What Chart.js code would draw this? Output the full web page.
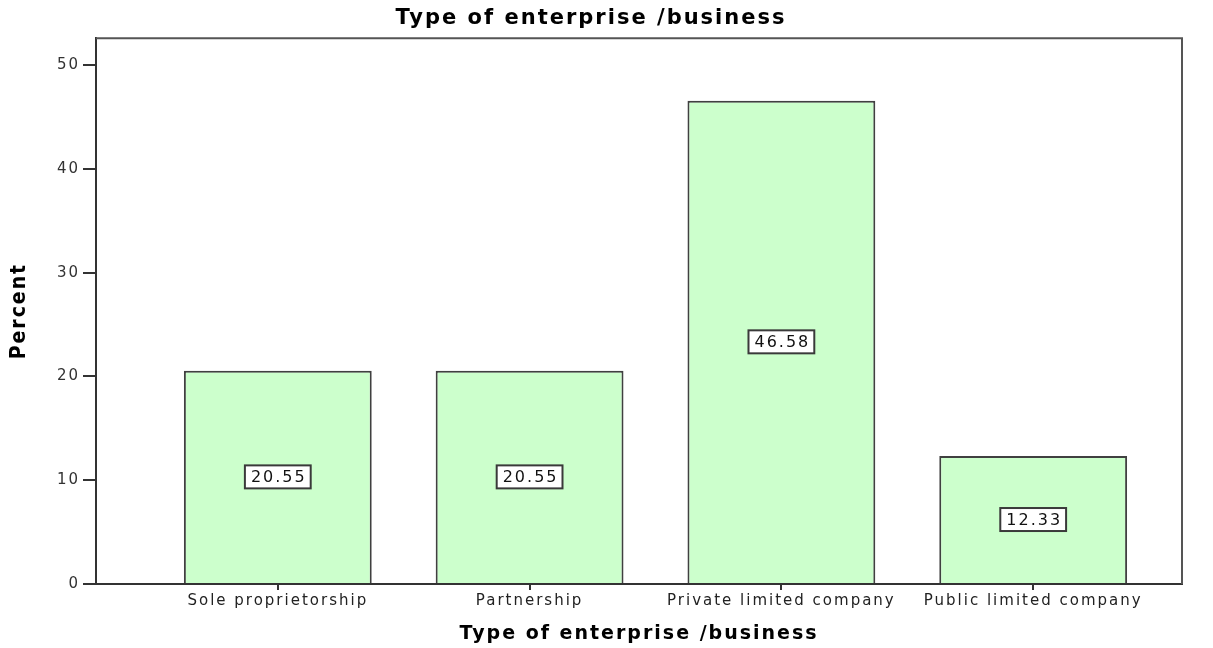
<!DOCTYPE html>
<html>
<head>
<meta charset="utf-8">
<script src="https://cdn.jsdelivr.net/npm/chart.js@4"></script>
<style>
  html, body { margin: 0; padding: 0; background: #fff; }
  #wrap { width: 1213px; height: 648px; }
</style>
</head>
<body>
<div id="wrap"><canvas id="enterpriseChart" width="1213" height="648"></canvas></div>
<script>
const categories = ["Sole proprietorship", "Partnership", "Private limited company", "Public limited company"];
const percents = [20.55, 20.55, 46.58, 12.33];
const yTicks = [0, 10, 20, 30, 40, 50];

// the reference text is drawn wide, so space the letters a little
const wideText = {
    id: "wideText",
    beforeDraw(chart) {
        chart.ctx.letterSpacing = "2px";
    }
};

// boxed value label in the middle of each bar
const valueBoxes = {
    id: "valueBoxes",
    afterDatasetsDraw(chart) {
        const ctx = chart.ctx;
        const meta = chart.getDatasetMeta(0);
        ctx.save();
        ctx.font = "16px 'DejaVu Sans'";
        ctx.textAlign = "center";
        ctx.textBaseline = "middle";
        meta.data.forEach((bar, i) => {
            const txt = percents[i].toFixed(2);
            const w = ctx.measureText(txt).width + 10;
            const h = 23;
            const cx = bar.x;
            const cy = (bar.y + bar.base) / 2;
            ctx.fillStyle = "#ffffff";
            ctx.fillRect(cx - w / 2, cy - h / 2, w, h);
            ctx.strokeStyle = "#3a3a3a";
            ctx.lineWidth = 2;
            ctx.strokeRect(cx - w / 2, cy - h / 2, w, h);
            ctx.fillStyle = "#111";
            ctx.fillText(txt, cx + 1, cy + 1);
        });
        ctx.restore();
    }
};

// top and right edges of the plot frame
const frame = {
    id: "frame",
    afterDraw(chart) {
        const a = chart.chartArea;
        const ctx = chart.ctx;
        ctx.save();
        ctx.strokeStyle = "#555";
        ctx.lineWidth = 2;
        ctx.beginPath();
        ctx.moveTo(a.left, a.top);
        ctx.lineTo(a.right, a.top);
        ctx.lineTo(a.right, a.bottom);
        ctx.stroke();
        ctx.restore();
    }
};

new Chart(document.getElementById("enterpriseChart"), {
    type: "bar",
    data: {
        datasets: [{
            label: "Percent",
            data: categories.map((c, i) => ({ x: i, y: percents[i] })),
            backgroundColor: "#ccffcc",
            borderColor: "#404040",
            borderWidth: 2,
            barPercentage: 0.746,
            categoryPercentage: 1
        }]
    },
    options: {
        responsive: false,
        animation: false,
        layout: { padding: { top: 0, right: 31, bottom: 0, left: 0 } },
        plugins: {
            legend: { display: false },
            tooltip: { enabled: false },
            title: {
                display: true,
                text: "Type of enterprise /business",
                color: "#000",
                font: { family: "'DejaVu Sans'", size: 21, weight: "bold", lineHeight: 1.2 },
                padding: { top: 6, bottom: 7 }
            }
        },
        scales: {
            x: {
                type: "linear",
                offset: false,
                min: -0.722,
                max: 3.591,
                afterBuildTicks: (scale) => { scale.ticks = categories.map((c, i) => ({ value: i })); },
                afterFit: (scale) => { scale.height = 64; },
                border: { color: "#333", width: 2 },
                grid: { offset: false, drawOnChartArea: false, drawTicks: true, tickLength: 6, color: "#333", lineWidth: 2 },
                ticks: {
                    color: "#222",
                    font: { family: "'DejaVu Sans'", size: 15 },
                    padding: 2,
                    maxRotation: 0,
                    autoSkip: false,
                    callback: (v) => categories[v]
                },
                title: {
                    display: true,
                    text: "Type of enterprise /business",
                    color: "#000",
                    font: { family: "'DejaVu Sans'", size: 19, weight: "bold", lineHeight: 1.2 },
                    padding: 3
                }
            },
            y: {
                min: 0,
                max: 52.6,
                afterBuildTicks: (scale) => { scale.ticks = yTicks.map(v => ({ value: v })); },
                afterFit: (scale) => { scale.width = 96; },
                border: { color: "#333", width: 2 },
                grid: { drawOnChartArea: false, drawTicks: true, tickLength: 13, color: "#333", lineWidth: 2 },
                ticks: {
                    color: "#333",
                    font: { family: "'DejaVu Sans'", size: 15 },
                    padding: 3
                },
                title: {
                    display: true,
                    text: "Percent",
                    color: "#000",
                    font: { family: "'Liberation Sans Narrow', 'DejaVu Sans Condensed'", size: 21, weight: "bold", lineHeight: 1.2 },
                    padding: 7
                }
            }
        }
    },
    plugins: [wideText, valueBoxes, frame]
});
</script>
</body>
</html>
